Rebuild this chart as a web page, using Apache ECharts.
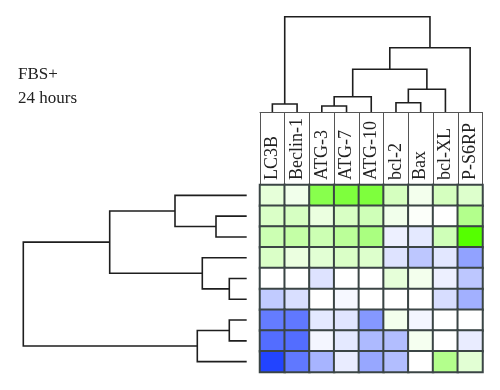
<!DOCTYPE html>
<html><head><meta charset="utf-8">
<script src="https://cdn.jsdelivr.net/npm/echarts@6/dist/echarts.min.js"></script>
<style>html,body{margin:0;padding:0;background:#fff}#c{width:500px;height:390px}</style>
</head><body><div id="c"></div>
<script>
// ---- data ----
const columns = ['LC3B','Beclin-1','ATG-3','ATG-7','ATG-10','bcl-2','Bax','bcl-XL','P-S6RP'];
const rows = ['r1','r2','r3','r4','r5','r6','r7','r8','r9'];
const titleLines = ['FBS+', '24 hours'];
const row1 = [0.15, 0.08, 0.70, 0.76, 0.76, 0.25, 0.07, 0.25, 0.20];
const row2 = [0.22, 0.24, 0.12, 0.23, 0.28, 0.08, 0.02, 0.00, 0.45];
const row3 = [0.30, 0.35, 0.30, 0.40, 0.50, -0.08, -0.12, 0.28, 1.00];
const row4 = [0.22, 0.12, 0.17, 0.22, 0.20, -0.15, -0.30, -0.13, -0.50];
const row5 = [0.00, 0.00, -0.15, 0.00, 0.00, 0.15, 0.07, -0.08, -0.30];
const row6 = [-0.28, -0.17, 0.00, -0.04, 0.00, 0.00, 0.00, -0.18, -0.42];
const row7 = [-0.70, -0.72, -0.12, -0.14, -0.55, 0.07, -0.05, 0.00, 0.00];
const row8 = [-0.78, -0.78, -0.05, -0.12, -0.37, -0.35, 0.06, 0.00, -0.10];
const row9 = [-1.00, -0.72, -0.40, -0.10, -0.47, -0.35, 0.00, 0.45, 0.17];
const matrix = [row1,row2,row3,row4,row5,row6,row7,row8,row9];
// dendrogram merges: [childA, childB, height]; leaves 0..8, new nodes numbered from 9
const colMerges = [[0,1,8],[2,3,6],[10,4,15.3],[5,6,9.3],[12,7,22.7],[11,13,42.7],[14,8,64.3],[9,15,95.3]];
const rowMerges = [[1,2,30.7],[0,9,71.7],[4,5,17.4],[3,11,44.4],[10,12,137],[6,7,17.4],[14,8,49.4],[13,15,223.4]];

// ---- build ----
function linkItems(merges, n){
  const pos = [], h = [];
  for (let i=0;i<n;i++){pos.push(i);h.push(0);}
  const items = [];
  merges.forEach(m=>{
    const [a,b,hh] = m;
    items.push([pos[a], h[a], pos[b], h[b], hh]);
    pos.push((pos[a]+pos[b])/2); h.push(hh);
  });
  return items;
}
const heatData = [];
matrix.forEach((r,ri)=>r.forEach((v,ci)=>heatData.push([ci,ri,v])));
const lineStyle = {stroke:'#1e1e1e', lineWidth:1.6, fill:'none'};
function dendroRender(horizontal){
  return function(params, api){
    const pa=api.value(0), ha=api.value(1), pb=api.value(2), hb=api.value(3), h=api.value(4);
    const c = horizontal ? (p,hh)=>api.coord([hh,p]) : (p,hh)=>api.coord([p,hh]);
    return {type:'polyline', shape:{points:[c(pa,ha),c(pa,h),c(pb,h),c(pb,hb)]}, style:lineStyle};
  };
}
const serif = 'Liberation Serif';
const chart = echarts.init(document.getElementById('c'), null, {renderer:'canvas'});
chart.setOption({
  animation:false,
  backgroundColor:'#fff',
  graphic: titleLines.map((t,i)=>({type:'text', left:18, top:66+i*24, style:{text:t, font:'17px "Liberation Serif"', fill:'#222'}})),
  grid:[
    {left:260, top:185, width:222.5, height:187},
    {left:260, top:12, width:222.5, height:100},
    {left:16.7, top:185, width:230, height:187}
  ],
  xAxis:[
    {type:'category', gridIndex:0, data:columns, position:'top',
     axisLine:{show:false}, axisTick:{show:true, length:73, lineStyle:{color:'#555', width:1}},
     axisLabel:{rotate:-90, margin:5, fontFamily:serif, fontSize:18, color:'#222'}},
    {type:'value', gridIndex:1, min:-0.5, max:8.5, position:'bottom',
     axisLine:{show:true, onZero:false, lineStyle:{color:'#555', width:1}}, axisTick:{show:false}, axisLabel:{show:false}, splitLine:{show:false}},
    {type:'value', gridIndex:2, min:0, max:230, inverse:true, show:false, splitLine:{show:false}}
  ],
  yAxis:[
    {type:'category', gridIndex:0, data:rows, inverse:true, show:false},
    {type:'value', gridIndex:1, min:0, max:100, show:false, splitLine:{show:false}},
    {type:'value', gridIndex:2, min:-0.5, max:8.5, inverse:true, show:false, splitLine:{show:false}}
  ],
  visualMap:{show:false, type:'continuous', min:-1, max:1, dimension:2, seriesIndex:0,
    inRange:{color:['#2244ff','#ffffff','#55ff00']}},
  series:[
    {type:'heatmap', xAxisIndex:0, yAxisIndex:0, data:heatData,
     itemStyle:{borderColor:'#3b4545', borderWidth:2}, emphasis:{disabled:true}},
    {type:'custom', xAxisIndex:1, yAxisIndex:1, data:linkItems(colMerges,9), renderItem:dendroRender(false), silent:true},
    {type:'custom', xAxisIndex:2, yAxisIndex:2, data:linkItems(rowMerges,9), renderItem:dendroRender(true), silent:true}
  ]
});
</script></body></html>
